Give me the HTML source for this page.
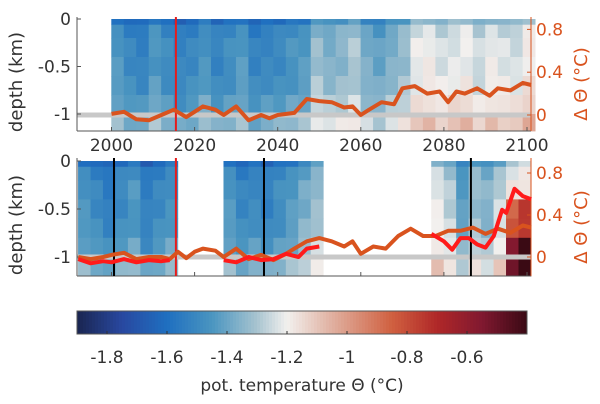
<!DOCTYPE html>
<html><head><meta charset="utf-8">
<style>
html,body{margin:0;padding:0;background:#fff;}
svg{display:block;font-family:"DejaVu Sans","Liberation Sans",sans-serif;}
</style></head>
<body>
<svg id="chart" width="600" height="404" viewBox="0 0 600 404" xmlns="http://www.w3.org/2000/svg"></svg>
<script>
// ---------- data ----------
const depthLevels = [0.02, 0.1, 0.3, 0.5, 0.7, 0.9, 1.1];
const depthOffsets = [-0.12, -0.03, 0.0, 0.0, 0.02, 0.06, 0.13];

const topYears = [2000,2003,2006,2009,2012,2015,2018,2021,2024,2027,2030,2033,2036,2039,2042,2045,2048,2051,2054,2057,2060,2063,2066,2069,2072,2075,2078,2081,2084,2087,2090,2093,2096,2099];
const topColTemp = [-1.45,-1.5,-1.52,-1.44,-1.49,-1.52,-1.5,-1.45,-1.51,-1.48,-1.44,-1.52,-1.5,-1.49,-1.46,-1.44,-1.32,-1.36,-1.34,-1.3,-1.38,-1.41,-1.36,-1.32,-1.22,-1.2,-1.24,-1.22,-1.2,-1.26,-1.21,-1.23,-1.24,-1.18];

const b1Years = [1992,1995,1998,2001,2004,2007,2010,2013];
const b1ColTemp = [-1.46,-1.5,-1.54,-1.49,-1.45,-1.54,-1.5,-1.46];
const b2Years = [2027,2030,2033,2036,2039,2042,2045,2048];
const b2ColTemp = [-1.45,-1.51,-1.49,-1.52,-1.48,-1.44,-1.38,-1.32];
const b3Years = [2077,2080,2083,2086,2089,2092,2095,2098];
const b3ColTemp = [-1.22,-1.28,-1.42,-1.32,-1.36,-1.28,-1.18,-1.15];
const b3DeepAnom = [0,0,0,0,0,0.03,0.4,0.5];

const topLineYears = [2000,2003,2006,2009,2012,2015,2018,2020,2022,2025,2027,2030,2033,2036,2038,2040,2044,2047,2050,2053,2056,2058,2060,2062,2065,2068,2070,2073,2076,2079,2081,2083,2085,2088,2091,2093,2096,2099,2101];
const topLineVals = [0.01,0.03,-0.04,-0.05,0.0,0.05,-0.02,0.03,0.08,0.05,0.0,0.08,-0.05,0.0,-0.03,0.0,0.02,0.15,0.13,0.12,0.07,0.08,0.0,0.05,0.12,0.1,0.25,0.27,0.2,0.22,0.12,0.22,0.2,0.25,0.18,0.25,0.23,0.3,0.28];

const botLineYears = [1992,1995,1998,2000,2003,2006,2009,2012,2014,2016,2018,2020,2022,2025,2027,2030,2033,2036,2039,2042,2044,2047,2050,2053,2056,2058,2060,2063,2066,2069,2072,2075,2078,2081,2084,2087,2090,2093,2096,2099,2101];
const botLineVals = [0.0,-0.02,0.0,0.02,0.04,-0.02,0.0,0.0,-0.02,0.05,-0.01,0.05,0.08,0.06,0.0,0.08,-0.02,0.02,-0.03,0.03,0.08,0.15,0.18,0.15,0.1,0.15,0.03,0.1,0.08,0.2,0.27,0.2,0.2,0.25,0.25,0.28,0.22,0.27,0.23,0.3,0.28];

const redYears = [[1992,1995,1998,2000,2003,2006,2009,2012,2014],[2027,2030,2033,2036,2039,2042,2045,2047,2050],[2077,2080,2082,2084,2086,2088,2090,2092,2094,2095,2097,2099,2101]];
const redVals = [[-0.02,-0.06,-0.04,-0.05,-0.02,-0.05,-0.03,-0.04,-0.03],[-0.03,-0.05,0.0,-0.03,-0.02,0.03,0.0,0.08,0.1],[0.22,0.15,0.07,0.18,0.18,0.12,0.09,0.2,0.45,0.42,0.65,0.58,0.55]];

const xTicks = [2000,2020,2040,2060,2080,2100];
const depthTicks = [0,-0.5,-1];
const dTTicks = [0.8,0.4,0];
const cbTicks = [-1.8,-1.6,-1.4,-1.2,-1,-0.8,-0.6];
const redMarkYear = 2015.5;
const blackMarks = [2000.6,2036.7,2086.5];

// ---------- helpers ----------
const svg = document.getElementById('chart');
const NS = 'http://www.w3.org/2000/svg';
function mk(tag, attrs, parent){const e=document.createElementNS(NS,tag);for(const k in attrs)e.setAttribute(k,attrs[k]);(parent||svg).appendChild(e);return e;}
const X = yr => 111.5 + (yr-2000)*4.155;
const stops = [[-1.9,[26,37,80]],[-1.75,[40,72,160]],[-1.6,[31,111,192]],[-1.45,[74,149,192]],[-1.3,[168,196,208]],[-1.2,[242,240,238]],[-1.05,[224,176,160]],[-0.85,[208,96,64]],[-0.7,[176,40,40]],[-0.55,[128,24,48]],[-0.4,[58,10,20]]];
function cmap(v){v=Math.max(-1.9,Math.min(-0.4,v));for(let i=0;i<stops.length-1;i++){const a=stops[i],b=stops[i+1];if(v<=b[0]){const t=(v-a[0])/(b[0]-a[0]);const c=a[1].map((q,j)=>Math.round(q+(b[1][j]-q)*t));return `rgb(${c})`;}}return 'rgb(58,10,20)';}

const panels = [
 {top:17,bot:131,d0:19,dPer:47.5,t0:115,tPer:107},
 {top:158,bot:276,d0:161,dPer:48,t0:257,tPer:105}
];
function Yd(p,d){return p.d0 - d*p.dPer*2;}
function Yt(p,t){return p.t0 - t*p.tPer;}

function heat(p, years, temps, name, deep){
  const g=mk('g',{});
  
  
  const step = years[1]-years[0];
  const edges=[0,0.06,0.2,0.4,0.6,0.8,1.0,1.2];
  years.forEach((yr,i)=>{
    depthLevels.forEach((d,j)=>{
      let v=temps[i]+depthOffsets[j]+((i*7+j*3)%5-2)*0.012;
      if(deep && d>0.45) v+=deep[i]*(d>0.8?1.4:0.8);
      const y1=Math.max(p.top, Yd(p,-edges[j])), y2=Math.min(p.bot, Yd(p,-edges[j+1]));
      const r=mk('rect',{x:X(yr)-0.2,y:y1,width:step*4.155+0.4,height:Math.max(0,y2-y1)+0.4,fill:cmap(v)},g);
      
      
    });
  });
}
function line(p, xs, vs, color, w, name){
  const pts=xs.map((x,i)=>X(x).toFixed(1)+','+Yt(p,vs[i]).toFixed(1)).join(' ');
  const l=mk('polyline',{points:pts,fill:'none',stroke:color,'stroke-width':w,'stroke-linejoin':'round'});
  
  
}
function axes(p, idx){
  const gray='#555', org='#d9531e';
  const z=mk('line',{x1:77,x2:531,y1:Yt(p,0),y2:Yt(p,0),stroke:'#c8c8c8','stroke-width':5});
   
  mk('line',{x1:77,x2:77,y1:p.top,y2:p.bot,stroke:gray,'stroke-width':1});
  mk('line',{x1:77,x2:531,y1:p.bot,y2:p.bot,stroke:gray,'stroke-width':1});
  mk('line',{x1:531,x2:531,y1:p.top,y2:p.bot,stroke:org,'stroke-width':1});
  depthTicks.forEach(d=>{const y=Yd(p,d);mk('line',{x1:77,x2:81,y1:y,y2:y,stroke:gray});
    const t=mk('text',{x:71,y:y+6,'text-anchor':'end','font-size':17,fill:'#333'});t.textContent=d;
    });
  dTTicks.forEach(v=>{const y=Yt(p,v);mk('line',{x1:527,x2:531,y1:y,y2:y,stroke:org});
    const t=mk('text',{x:536,y:y+6,'font-size':17,fill:org});t.textContent=v;
    });
  xTicks.forEach(v=>{const x=X(v);mk('line',{x1:x,x2:x,y1:p.bot,y2:p.bot-4,stroke:gray});
    if(idx===0){const t=mk('text',{x:x,y:p.bot+20,'text-anchor':'middle','font-size':17,fill:'#333'});t.textContent=v;
    }});
  const yl=mk('text',{transform:`translate(22,${(p.top+p.bot)/2+8}) rotate(-90)`,'text-anchor':'middle','font-size':18,fill:'#333'});
  yl.textContent='depth (km)';
  const yr=mk('text',{transform:`translate(587,${(p.top+p.bot)/2+10}) rotate(-90)`,'text-anchor':'middle','font-size':18,fill:org});
  yr.textContent='Δ Θ (°C)';
}

// ---------- top panel ----------
const P0=panels[0];
heat(P0, topYears, topColTemp, 'top-heatmap');
axes(P0,0);
mk('line',{x1:X(redMarkYear),x2:X(redMarkYear),y1:P0.top,y2:P0.bot,stroke:'#e51c1c','stroke-width':2});
line(P0, topLineYears, topLineVals, '#d9531e', 4, 'top-mean-anomaly-line');

// ---------- bottom panel ----------
const P1=panels[1];
heat(P1, b1Years, b1ColTemp, 'bottom-heatmap-block-1');
heat(P1, b2Years, b2ColTemp, 'bottom-heatmap-block-2');
heat(P1, b3Years, b3ColTemp, 'bottom-heatmap-block-3', b3DeepAnom);
axes(P1,1);
blackMarks.forEach(yr=>{const l=mk('line',{x1:X(yr),x2:X(yr),y1:P1.top,y2:P1.bot,stroke:'#000','stroke-width':2});
  });
mk('line',{x1:X(redMarkYear),x2:X(redMarkYear),y1:P1.top,y2:P1.bot,stroke:'#e51c1c','stroke-width':2});
line(P1, botLineYears, botLineVals, '#d9531e', 4, 'bottom-mean-anomaly-line');
redYears.forEach((ys,i)=>line(P1, ys, redVals[i], '#ff1a1a', 4, 'bottom-block-anomaly-line'));

// ---------- colorbar ----------
const CB={x0:77,x1:527,v0:-1.9,v1:-0.4,y:311,h:23};
const CX=v=>CB.x0+(v-CB.v0)/(CB.v1-CB.v0)*(CB.x1-CB.x0);
const cbg=mk('g',{});
for(let i=0;i<150;i++){const v=CB.v0+i*0.01;mk('rect',{x:CX(v),y:CB.y,width:3.2,height:CB.h,fill:cmap(v+0.005)},cbg);}
mk('rect',{x:CB.x0,y:CB.y,width:CB.x1-CB.x0,height:CB.h,fill:'none',stroke:'#555'},cbg);
cbTicks.forEach(v=>{const x=CX(v);mk('line',{x1:x,x2:x,y1:CB.y+CB.h,y2:CB.y+CB.h-3,stroke:'#333'});
  const t=mk('text',{x:x,y:363,'text-anchor':'middle','font-size':17,fill:'#333'});t.textContent=v;
  });
const ct=mk('text',{x:302,y:391,'text-anchor':'middle','font-size':17,fill:'#333'});
ct.textContent='pot. temperature Θ (°C)';
</script>
</body></html>
